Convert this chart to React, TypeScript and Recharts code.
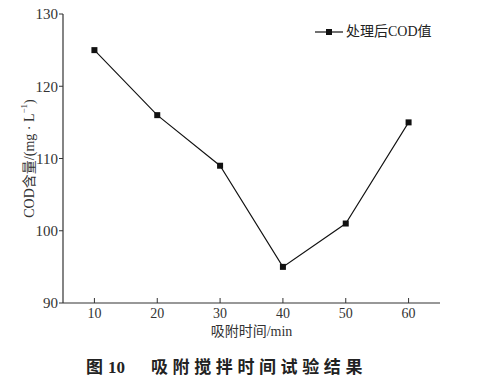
import { LineChart, Line, XAxis, YAxis, Label } from "recharts";

// adsorption time (min)
const times = [10, 20, 30, 40, 50, 60];
// COD after treatment (mg/L)
const codValues = [125, 116, 109, 95, 101, 115];
const xTicks = [10, 20, 30, 40, 50, 60];
const xMinorTicks = [15, 25, 35, 45, 55];
const yTicks = [90, 100, 110, 120, 130];
const seriesName = "处理后COD值";
const xLabel = "吸附时间/min";
const caption = "吸附搅拌时间试验结果";

const data = times.map((t, i) => ({ time: t, cod: codValues[i] }));

const FONT = '"Liberation Serif", "Noto Sans CJK SC", serif';

const SquareDot = (props: any) => {
  const { cx, cy } = props;
  if (cx == null || cy == null) return null;
  return <rect x={cx - 3} y={cy - 3} width={6} height={6} fill="#111" />;
};

const YTitle = (props: any) => {
  const vb = props.viewBox || {};
  const cx = vb.x + 29;
  const cy = vb.y + vb.height / 2;
  return (
    <text
      x={cx}
      y={cy}
      transform={`rotate(-90 ${cx} ${cy})`}
      textAnchor="middle"
      dominantBaseline="central"
      fontFamily={FONT}
      fontSize={14}
      fill="#333"
    >
      COD含量/(mg · L
      <tspan fontSize={9} dy={-5}>
        −1
      </tspan>
      <tspan dy={5}>)</tspan>
    </text>
  );
};

export default function App() {
  return (
    <div
      style={{
        position: "absolute",
        top: 0,
        left: 0,
        width: 485,
        height: 380,
        background: "#fff",
        overflow: "hidden",
      }}
    >
      <LineChart
        width={485}
        height={380}
        data={data}
        margin={{ top: 14, right: 45, left: 0, bottom: 0 }}
      >
        <XAxis
          xAxisId="main"
          dataKey="time"
          type="number"
          domain={[5, 65]}
          ticks={xTicks}
          height={77}
          tickSize={-5}
          tickMargin={10}
          stroke="#333"
          tick={{ fill: "#333", fontSize: 14, fontFamily: FONT }}
          axisLine={{ stroke: "#333", strokeWidth: 1.2 }}
        >
          <Label
            value={xLabel}
            position="insideTop"
            offset={23}
            style={{ fill: "#333", fontSize: 14, fontFamily: FONT }}
          />
        </XAxis>
        <XAxis
          xAxisId="minor"
          dataKey="time"
          type="number"
          domain={[5, 65]}
          ticks={xMinorTicks}
          height={0}
          tickSize={-3}
          tick={false}
          stroke="#333"
          axisLine={false}
        />
        <XAxis
          xAxisId="top"
          orientation="top"
          dataKey="time"
          type="number"
          domain={[5, 65]}
          ticks={xTicks}
          height={0}
          tickSize={-4}
          tick={false}
          stroke="#555"
          axisLine={{ stroke: "#555", strokeWidth: 1 }}
        />
        <YAxis
          yAxisId="main"
          domain={[90, 130]}
          ticks={yTicks}
          width={63}
          tickSize={4}
          tickMargin={1}
          stroke="#333"
          tick={{ fill: "#333", fontSize: 15, fontFamily: FONT }}
          axisLine={{ stroke: "#333", strokeWidth: 1.2 }}
        >
          <Label content={<YTitle />} />
        </YAxis>
        <YAxis
          yAxisId="right"
          orientation="right"
          domain={[90, 130]}
          width={0}
          tick={false}
          tickLine={false}
          axisLine={{ stroke: "#222", strokeWidth: 1.2 }}
        />
        <Line
          xAxisId="main"
          yAxisId="main"
          dataKey="cod"
          name={seriesName}
          stroke="#111"
          strokeWidth={1.1}
          dot={<SquareDot />}
          activeDot={false}
          isAnimationActive={false}
        />
      </LineChart>
      <div
        style={{
          position: "absolute",
          top: 22,
          left: 315,
          display: "flex",
          alignItems: "center",
          fontFamily: FONT,
          fontSize: 14,
          color: "#222",
          lineHeight: "20px",
        }}
      >
        <svg width={28} height={10} style={{ marginRight: 3 }}>
          <line x1={0} y1={5} x2={28} y2={5} stroke="#111" strokeWidth={1.2} />
          <rect x={11} y={2} width={6} height={6} fill="#111" />
        </svg>
        <span>{seriesName}</span>
      </div>
      <div
        style={{
          position: "absolute",
          top: 354,
          left: 86,
          fontFamily: '"Noto Sans CJK SC", sans-serif',
          fontWeight: 700,
          fontSize: 17,
          color: "#222",
          whiteSpace: "nowrap",
          lineHeight: "24px",
        }}
      >
        <span>图</span>
        <span style={{ fontFamily: '"Liberation Serif", serif', marginLeft: 5 }}>10</span>
        <span style={{ marginLeft: 26, letterSpacing: 4.6 }}>{caption}</span>
      </div>
    </div>
  );
}
